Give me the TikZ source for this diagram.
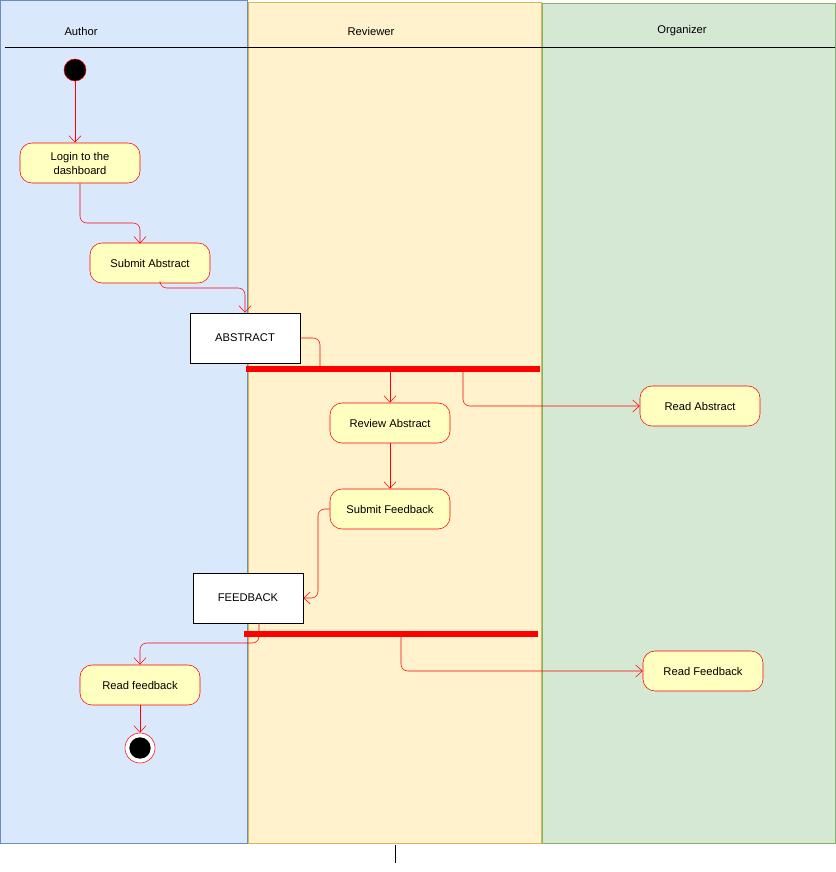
\documentclass[tikz,border=0pt]{standalone}
\usepackage{fontspec}
\setmainfont{Liberation Sans}
\usetikzlibrary{arrows.meta}
\definecolor{authorbg}{HTML}{DAE8FC}
\definecolor{authorln}{HTML}{6C8EBF}
\definecolor{reviewbg}{HTML}{FFF2CC}
\definecolor{reviewln}{HTML}{D6B656}
\definecolor{orgbg}{HTML}{D5E8D4}
\definecolor{orgln}{HTML}{82B366}
\definecolor{actfill}{HTML}{FFFFC0}
\begin{document}
\begin{tikzpicture}[x=0.75pt, y=-0.75pt,
    every node/.style={font=\fontsize{8.4}{10.5}\selectfont},
    activity/.style={rectangle, rounded corners=9pt, draw=red, fill=actfill, minimum width=90pt, minimum height=30pt, align=center},
    object/.style={rectangle, draw=black, fill=white, minimum width=82.5pt, minimum height=37.5pt},
    flow/.style={draw=red, rounded corners=5pt, -{Straight Barb[length=5pt, width=9pt]}}]
    \useasboundingbox (0,0) rectangle (836,872);
    % Swimlanes
    \draw[authorln, fill=authorbg] (0,0) rectangle (247,843);
    \draw[reviewln, fill=reviewbg] (248,2) rectangle (541,843);
    \draw[orgln, fill=orgbg] (542,3) rectangle (835,843);
    \draw (5,47) -- (835,47);
    \draw (395,845) -- (395,863);
    \node (author) at (81,31) {Author};
    \node (reviewer) at (371,31) {Reviewer};
    \node (organizer) at (682,31) {Organizer};

    % Start and end
    \node[circle, fill=black, draw=red, minimum size=16.5pt, inner sep=0pt] (start) at (75,70) {};
    \node[circle, draw=red, fill=white, minimum size=22.5pt, inner sep=0pt] (stop) at (140,748) {};
    \node[circle, fill=black, minimum size=16pt, inner sep=0pt] (stopdot) at (140,748) {};

    % Activities
    \node[activity] (login) at (80,163) {Login to the\\dashboard};
    \node[activity] (submit) at (150,263) {Submit Abstract};
    \node[activity] (review) at (390,423) {Review Abstract};
    \node[activity] (readabs) at (700,406) {Read Abstract};
    \node[activity] (sendfb) at (390,509) {Submit Feedback};
    \node[activity] (readfb) at (140,685) {Read feedback};
    \node[activity] (orgfb) at (703,671) {Read Feedback};

    % Objects
    \node[object] (abstract) at (245,338) {ABSTRACT};
    \node[object] (feedback) at (248,598) {FEEDBACK};

    % Fork bars
    \node[fill=red, minimum width=220.5pt, minimum height=4.5pt, inner sep=0pt] (fork1) at (393,369) {};
    \node[fill=red, minimum width=220.5pt, minimum height=4.5pt, inner sep=0pt] (fork2) at (391,634) {};

    % Flows
    \draw[flow, red] (start.south) -- (start|-login.north);
    \draw[flow] (login.south) |- (140,223) -- (140,243.5);
    \draw[flow] (160,283) |- (245,288) -- (abstract.north);
    \draw[draw=red, rounded corners=5pt] (abstract.east) -| (320,366);
    \draw[flow] (fork1.south-|review) -- (review.north);
    \draw[flow] (463,371) |- (readabs.west);
    \draw[flow] (review) -- (sendfb);
    \draw[flow] (sendfb.west) -| (318,598) -- (feedback.east);
    \draw[flow] (259,623) |- (140,643) -- (readfb.north);
    \draw[flow] (401,636) |- (orgfb.west);
    \draw[flow] (readfb) -- (stop);
\end{tikzpicture}
\end{document}
